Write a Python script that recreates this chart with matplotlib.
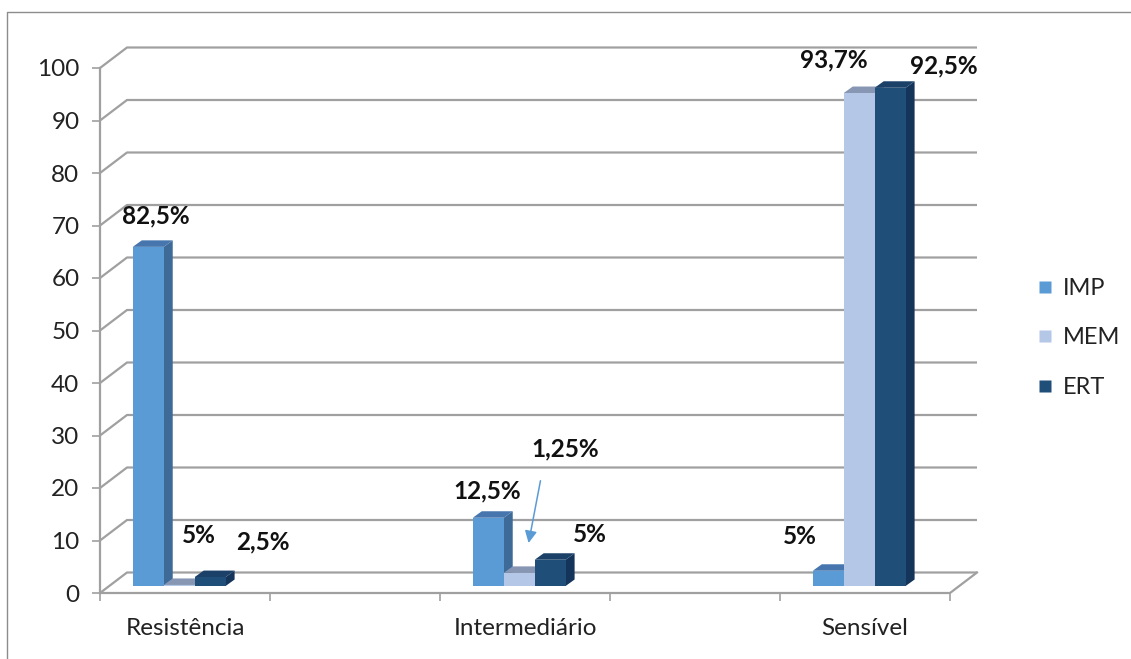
import matplotlib
matplotlib.use('Agg')
import matplotlib.pyplot as plt
from matplotlib.patches import Polygon
from matplotlib.lines import Line2D

# ---------------- data ----------------
categories = ['Resistência', 'Intermediário', 'Sensível']
series_names = ['IMP', 'MEM', 'ERT']
imp = [64.6, 13.0, 2.9]
mem = [0.2, 2.5, 93.9]
ert = [1.7, 5.0, 94.9]
imp_labels = ['82,5%', '12,5%', '5%']
mem_labels = ['5%', '1,25%', '93,7%']
ert_labels = ['2,5%', '5%', '92,5%']
y_ticks = list(range(0, 101, 10))

# ---------------- layout / style ----------------
W, H, DPI = 1131, 659, 100
cat_x = [0, 2, 4]                # category slots (5 slots, gaps between)
xlim = (-0.5, 4.5)
ylim = (0, 100)
bar_w = 0.182
group_shift = -0.09
# label positions (data coords) per series / category
imp_lpos = [(-0.171, 71.8), (1.776, 19.4), (3.618, 10.7)]
mem_lpos = [(0.082, 11.0), (2.235, 27.4), (3.818, 101.5)]
ert_lpos = [(0.459, 9.7), (2.382, 11.2), (4.465, 100.4)]
arrow_from = (2.094, 21.9)
arrow_to = (2.018, 9.0)

front_c = ['#5B9BD5', '#B4C7E7', '#1F4E79']
top_c = ['#4676AD', '#8797B3', '#1B4168']
side_c = ['#3E6A98', '#8C9DBA', '#15345A']
grid_c = '#a0a0a0'

plt.rcParams['font.family'] = ['Lato', 'DejaVu Sans']

fig = plt.figure(figsize=(W / DPI, H / DPI), dpi=DPI)
ax_l, ax_r, ax_t, ax_b = 100, 950, 68, 593
ax = fig.add_axes([ax_l / W, (H - ax_b) / H, (ax_r - ax_l) / W, (ax_b - ax_t) / H])
ax.set_xlim(*xlim)
ax.set_ylim(*ylim)
for s in ax.spines.values():
    s.set_visible(False)
ax.patch.set_visible(False)

# px -> data unit conversions
px_x = (xlim[1] - xlim[0]) / (ax_r - ax_l)
px_y = (ylim[1] - ylim[0]) / (ax_b - ax_t)

wall_dx, wall_dy = 27 * px_x, 20.5 * px_y
base_dx, base_dy = 9.5 * px_x, 7 * px_y
dep_dx, dep_dy = 9 * px_x, 6.5 * px_y

# back wall gridlines
for v in y_ticks:
    ax.plot([xlim[0], xlim[0] + wall_dx, xlim[1] + wall_dx], [v, v + wall_dy, v + wall_dy],
            color=grid_c, lw=1.6, clip_on=False, zorder=1, solid_capstyle='butt')
# floor front edge and right diagonal
ax.plot([xlim[0], xlim[1], xlim[1] + wall_dx], [0, 0, wall_dy], color=grid_c, lw=1.6,
        clip_on=False, zorder=1)
# vertical axis line
ax.plot([xlim[0], xlim[0]], [0, ylim[1]], color=grid_c, lw=1.6, clip_on=False, zorder=1)

# bars
series_vals = [imp, mem, ert]
for i, vals in enumerate(series_vals):
    for j, h in enumerate(vals):
        x0 = cat_x[j] + group_shift + (i - 1.5) * bar_w + base_dx
        x1 = x0 + bar_w
        y0 = base_dy
        y1 = h + base_dy
        side = Polygon([(x1, y0), (x1 + dep_dx, y0 + dep_dy), (x1 + dep_dx, y1 + dep_dy), (x1, y1)],
                       closed=True, facecolor=side_c[i], edgecolor='none', zorder=3 + i, clip_on=False)
        top = Polygon([(x0, y1), (x1, y1), (x1 + dep_dx, y1 + dep_dy), (x0 + dep_dx, y1 + dep_dy)],
                      closed=True, facecolor=top_c[i], edgecolor='none', zorder=3 + i, clip_on=False)
        front = Polygon([(x0, y0), (x1, y0), (x1, y1), (x0, y1)],
                        closed=True, facecolor=front_c[i], edgecolor='none', zorder=3 + i, clip_on=False)
        ax.add_patch(side)
        ax.add_patch(top)
        ax.add_patch(front)

# data labels
for labels, poss in [(imp_labels, imp_lpos), (mem_labels, mem_lpos), (ert_labels, ert_lpos)]:
    for t, (x, y) in zip(labels, poss):
        ax.text(x, y, t, ha='center', va='center', fontsize=17.5, fontweight='bold',
                color='#111111', zorder=10, clip_on=False)

ax.annotate('', xy=arrow_to, xytext=arrow_from,
            arrowprops=dict(arrowstyle='-|>', color='#5B9BD5', lw=1.1, mutation_scale=18),
            zorder=9)

# ticks
ax.set_yticks(y_ticks)
ax.set_yticklabels([str(v) for v in y_ticks])
ax.tick_params(axis='y', length=5.8, width=1.2, color=grid_c, pad=9, labelsize=17.5,
               labelcolor='#222222')
ax.set_xticks([xlim[0] + k for k in range(6)])
ax.set_xticklabels([])
ax.tick_params(axis='x', which='major', length=5.8, width=1.2, color=grid_c, direction='out')
ax.set_xticks(cat_x, minor=True)
ax.set_xticklabels(categories, minor=True)
ax.tick_params(axis='x', which='minor', length=0, pad=18, labelsize=17.5, labelcolor='#222222')

# legend
handles = [Line2D([], [], marker='s', linestyle='none', markersize=8, markerfacecolor=c,
                  markeredgecolor='none') for c in front_c]
fig.legend(handles, series_names, loc='center left', bbox_to_anchor=(1026 / W, 1 - 338 / H),
           frameon=False, fontsize=17, labelspacing=1.2, handlelength=0.8, handletextpad=0.35,
           borderaxespad=0, labelcolor='#222222')

# chart border (left and top visible)
fig.add_artist(Line2D([7 / W, 7 / W, 1.0], [0, 1 - 12 / H, 1 - 12 / H], color='#8c8c8c', lw=1.0,
                      transform=fig.transFigure))

fig.savefig('out.png', dpi=DPI, facecolor='white')
